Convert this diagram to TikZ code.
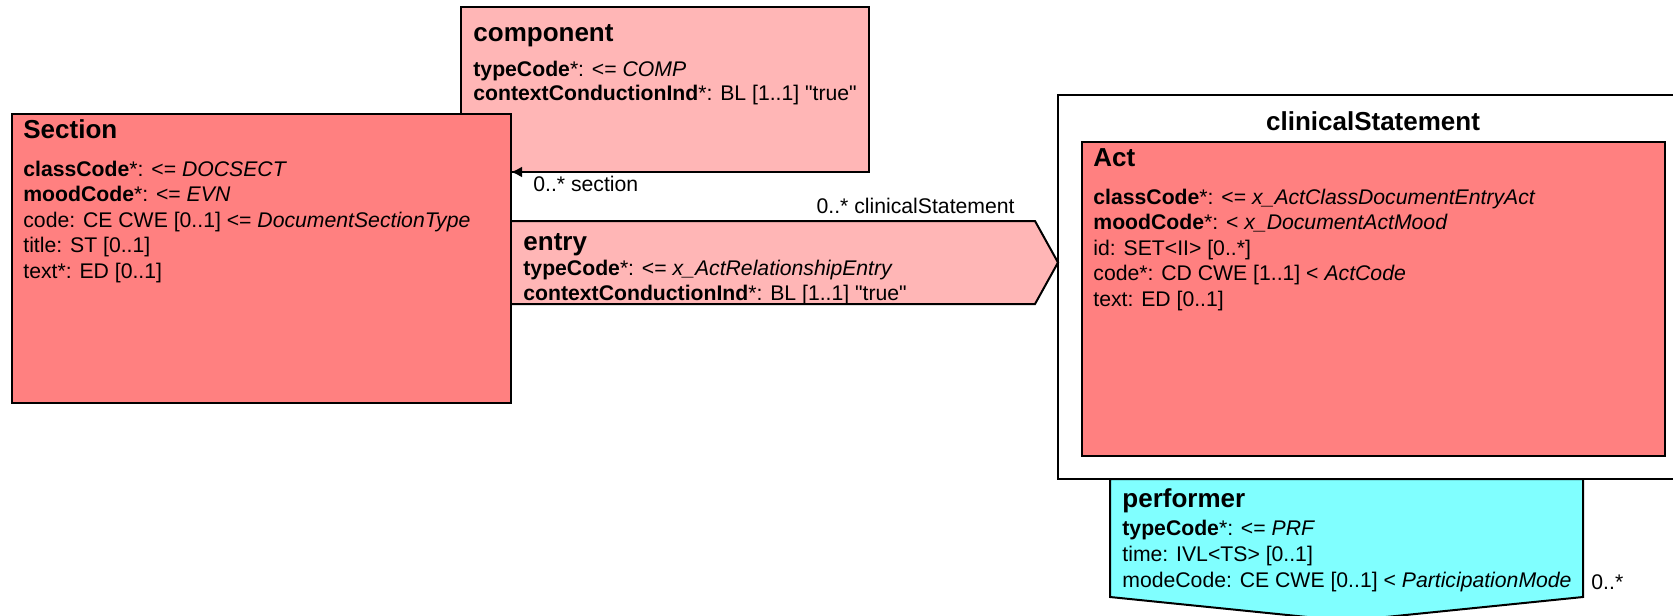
\documentclass[tikz,border=0pt]{standalone}
\usepackage{fontspec}
\setmainfont{Liberation Sans}[Ligatures=TeXOff]
\usetikzlibrary{fit,calc,arrows.meta}
\definecolor{clsred}{HTML}{FF8080}
\definecolor{relpink}{HTML}{FFB6B6}
\definecolor{partcyan}{HTML}{80FFFF}
\tikzset{
  boxline/.style={draw=black, line width=1pt},
  frame/.style={inner sep=0pt, outer sep=0pt, boxline},
  txt/.style={anchor=base west, inner sep=0pt, font=\fontsize{10.6}{12.7}\selectfont},
  ttl/.style={anchor=base west, inner sep=0pt, font=\bfseries\fontsize{13}{15.6}\selectfont},
  assoc/.style={line width=1pt, -{Latex[length=5.5pt,width=5.5pt]}},
}
\begin{document}
\begin{tikzpicture}[x=0.5pt,y=-0.5pt]
\useasboundingbox (0,0) rectangle (1673,615);
\clip (0,0) rectangle (1673,615);
\fill[white] (0,0) rectangle (1673,615);

% clinicalStatement frame and Act
\node[fit={(1058,95) (1700,479)}, frame, fill=white] (clin) {};
\node[fit={(1082,142) (1665,456)}, frame, fill=clsred] (act) {};

% performer
\node[fit={(1110,479) (1583,597)}, inner sep=0pt, outer sep=0pt] (perf) {};
\filldraw[boxline, fill=partcyan] (perf.north west) -- (perf.north east) -- (perf.south east)
  -- ($(perf.south)+(0,24)$) -- (perf.south west) -- cycle;

% component
\node[fit={(461,7) (869,172)}, frame, fill=relpink] (comp) {};

% entry
\node[fit={(490,221) (1035,304)}, inner sep=0pt, outer sep=0pt] (entry) {};
\filldraw[boxline, fill=relpink] (entry.north west) -- (entry.north east) -- (entry.east -| clin.west)
  -- (entry.south east) -- (entry.south west) -- cycle;

% Section
\node[fit={(12,114) (511,403)}, frame, fill=clsred] (sec) {};
\draw[assoc] (comp.south) -- (comp.south -| sec.east);

% association labels
\node[txt] (lsec) at (533,191) {0..* section};
\node[txt, anchor=base east] (lclin) at (1015,213) {0..* clinicalStatement};
\node[txt] (lperf) at (1591,589) {0..*};

% Section text
\node[ttl] (secT) at (23,138) {Section};
\node[txt] (sec1) at (23,176) {\textbf{classCode}*: <= \textit{DOCSECT}};
\node[txt] (sec2) at (23,201.5) {\textbf{moodCode}*: <= \textit{EVN}};
\node[txt] (sec3) at (23,227) {code: CE CWE [0..1] <= \textit{DocumentSectionType}};
\node[txt] (sec4) at (23,252.5) {title: ST [0..1]};
\node[txt] (sec5) at (23,278) {text*: ED [0..1]};

% component text
\node[ttl] (compT) at (473,42) {component};
\node[txt] (comp1) at (473,76) {\textbf{typeCode}*: <= \textit{COMP}};
\node[txt] (comp2) at (473,101) {\textbf{contextConductionInd}*: BL [1..1] "true"};

% entry text
\node[ttl] (entT) at (523,250) {entry};
\node[txt] (ent1) at (523,275) {\textbf{typeCode}*: <= \textit{x\_ActRelationshipEntry}};
\node[txt] (ent2) at (523,300) {\textbf{contextConductionInd}*: BL [1..1] "true"};

% clinicalStatement / Act text
\node[ttl, anchor=base] (clinT) at (1373,130) {clinicalStatement};
\node[ttl] (actT) at (1093,166) {Act};
\node[txt] (act1) at (1093,204) {\textbf{classCode}*: <= \textit{x\_ActClassDocumentEntryAct}};
\node[txt] (act2) at (1093,229.5) {\textbf{moodCode}*: < \textit{x\_DocumentActMood}};
\node[txt] (act3) at (1093,255) {id: SET<II> [0..*]};
\node[txt] (act4) at (1093,280.5) {code*: CD CWE [1..1] < \textit{ActCode}};
\node[txt] (act5) at (1093,306) {text: ED [0..1]};

% performer text
\node[ttl] (perfT) at (1122,507) {performer};
\node[txt] (perf1) at (1122,535) {\textbf{typeCode}*: <= \textit{PRF}};
\node[txt] (perf2) at (1122,561) {time: IVL<TS> [0..1]};
\node[txt] (perf3) at (1122,587) {modeCode: CE CWE [0..1] < \textit{ParticipationMode}};
\end{tikzpicture}
\end{document}
